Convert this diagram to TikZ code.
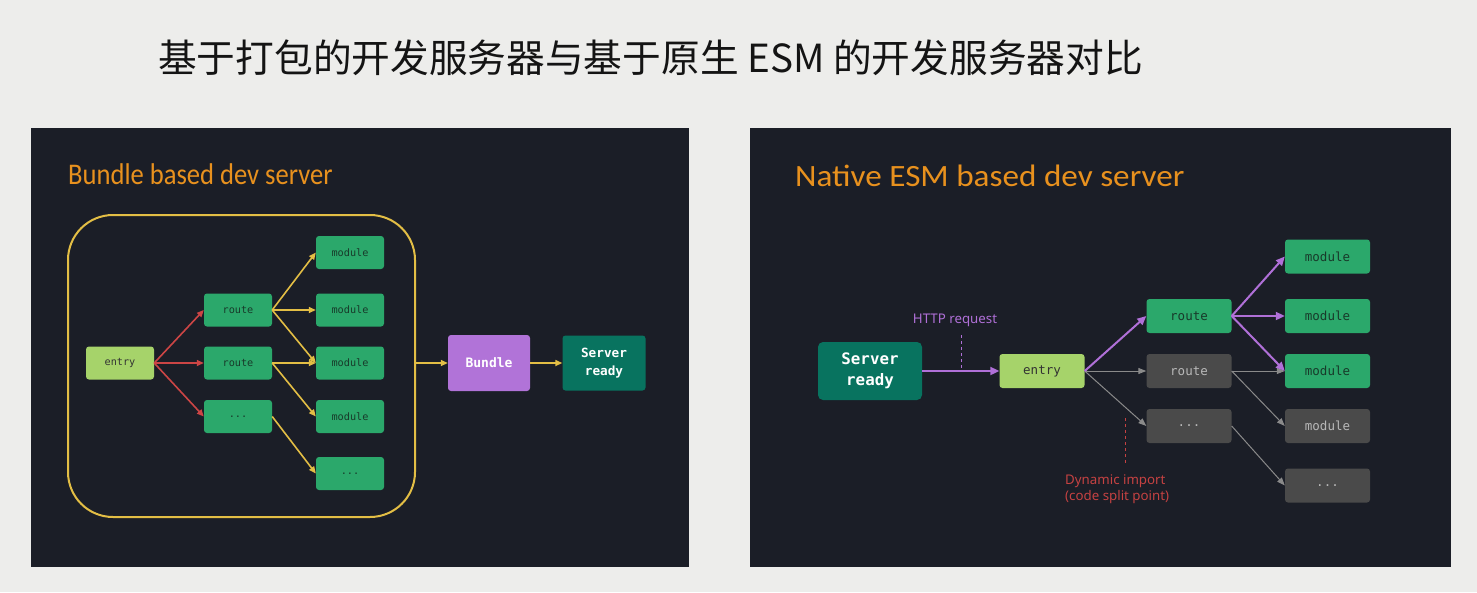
\documentclass[tikz,border=0pt]{standalone}
\usepackage{fontspec}
\setmainfont{Noto Sans}
\setmonofont{DejaVu Sans Mono}
\newfontfamily\cjkfont{Noto Sans CJK SC}
\newfontfamily\headfont{Carlito}
\usetikzlibrary{positioning,arrows.meta}

\definecolor{pagebg}{HTML}{EDEDEB}
\definecolor{panelbg}{HTML}{1B1E27}
\definecolor{headorange}{HTML}{E8911E}
\definecolor{bundleyellow}{HTML}{E3BE45}
\definecolor{edgered}{HTML}{CC4545}
\definecolor{modgreen}{HTML}{2BA86B}
\definecolor{modtext}{HTML}{183A2A}
\definecolor{entrygreen}{HTML}{A6D36A}
\definecolor{bundlepurple}{HTML}{B173D8}
\definecolor{serverteal}{HTML}{08735F}
\definecolor{lazygray}{HTML}{4A4A4A}
\definecolor{lazytext}{HTML}{B8B8B8}
\definecolor{lazyedge}{HTML}{8A8A8A}
\definecolor{reqpurple}{HTML}{B070D8}
\definecolor{splitred}{HTML}{C64242}

\begin{document}
\begin{tikzpicture}[x=1pt,y=-1pt,on grid,
   box/.style={rectangle,rounded corners=3pt,inner sep=0pt,
     minimum width=68pt,minimum height=33pt,fill=modgreen,text=modtext,
     font=\ttfamily\fontsize{10.2}{12}\selectfont},
   bigbox/.style={box,minimum width=85pt,minimum height=34pt,
     font=\ttfamily\fontsize{12.5}{15}\selectfont},
   lazy/.style={fill=lazygray,text=lazytext},
   entrybox/.style={fill=entrygreen,text=black!80},
   heading/.style={anchor=west,inner sep=0pt,text=headorange,
     font=\headfont\fontsize{30}{36}\selectfont},
   yarrow/.style={-{Triangle[length=7pt,width=6pt]},bundleyellow,line width=1.6pt},
   rarrow/.style={-{Triangle[length=7pt,width=6pt]},edgered,line width=1.6pt},
   parrow/.style={-{Triangle[length=9pt,width=8pt]},reqpurple,line width=2pt},
   garrow/.style={-{Triangle[length=8pt,width=6pt]},lazyedge,line width=1pt}]

   % page and panels
   \fill[pagebg] (0,0) rectangle (1477,592);
   \fill[panelbg] (31,128) rectangle (689,567);
   \fill[panelbg] (750,128) rectangle (1451,567);

   \node[anchor=west,inner sep=0pt,text=black!92,
     font=\cjkfont\fontsize{38.7}{44}\selectfont] (title) at (158,58)
     {基于打包的开发服务器与基于原生 ESM 的开发服务器对比};

   % bundle based dev server
   \node[heading] (lhead) at (68,174) {\scalebox{0.886}[1]{Bundle based dev server}};
   \node[draw=bundleyellow,line width=2pt,rounded corners=45pt,
     minimum width=347pt,minimum height=302pt] (bbox) at (241.5,366) {};

   \node[box,entrybox] (lentry) at (120,363) {entry};
   \node[box] (lroute2) [right=118pt of lentry] {route};
   \node[box] (lroute1) [above=53pt of lroute2] {route};
   \node[box] (ldots) [below=53.5pt of lroute2] {...};
   \node[box] (lmod3) [right=112pt of lroute2] {module};
   \node[box] (lmod2) [above=53pt of lmod3] {module};
   \node[box] (lmod1) [above=57.5pt of lmod2] {module};
   \node[box] (lmod4) [below=53.5pt of lmod3] {module};
   \node[box] (lmod5) [below=57pt of lmod4] {...};

   \node[box,fill=bundlepurple,text=white!92,minimum width=82pt,minimum height=56pt,
     font=\ttfamily\bfseries\fontsize{13}{16}\selectfont] (bundle) at (489,363) {Bundle};
   \node[box,fill=serverteal,text=white!88,minimum width=83pt,minimum height=55pt,align=center,
     font=\ttfamily\bfseries\fontsize{12.7}{18}\selectfont] (lserver) [right=115pt of bundle] {Server\\ready};

   \path[rarrow]
    (lentry.east) edge (lroute1.west)
                  edge (lroute2.west)
                  edge (ldots.west);
   \path[yarrow]
    (lroute1.east) edge (lmod1.west)
                   edge (lmod2.west)
                   edge (lmod3.west)
    (lroute2.east) edge (lmod3.west)
                   edge (lmod4.west)
    (ldots.east) edge (lmod5.west)
    (bbox.east |- bundle.west) edge (bundle.west)
    (bundle.east) edge (lserver.west);

   % native esm based dev server
   \node[heading,font=\headfont\fontsize{31}{36}\selectfont] (rhead) at (795,176)
     {\scalebox{1.07}[1]{Native ESM based dev server}};

   \node[box,fill=serverteal,text=white!88,minimum width=104pt,minimum height=58pt,
     rounded corners=5pt,align=center,
     font=\ttfamily\bfseries\fontsize{15.8}{21}\selectfont] (rserver) at (870,371) {Server\\ready};
   \node[bigbox,entrybox] (rentry) [right=172pt of rserver] {entry};
   \node[bigbox,lazy] (rroute2) [right=147pt of rentry] {route};
   \node[bigbox] (rroute1) [above=55pt of rroute2] {route};
   \node[bigbox,lazy] (rdots) [below=55pt of rroute2] {...};
   \node[bigbox] (rmod3) [right=138.5pt of rroute2] {module};
   \node[bigbox] (rmod2) [above=55pt of rmod3] {module};
   \node[bigbox] (rmod1) [above=59.5pt of rmod2] {module};
   \node[bigbox,lazy] (rmod4) [below=55pt of rmod3] {module};
   \node[bigbox,lazy] (rmod5) [below=59.5pt of rmod4] {...};

   \node[text=reqpurple,font=\fontsize{13.3}{16}\selectfont] (http) at (955,320) {HTTP request};
   \node[text=splitred,align=left,anchor=north west,inner sep=0pt,
     font=\fontsize{13.3}{16}\selectfont] (split) at (1065,474) {Dynamic import\\(code split point)};
   \coordinate (httpmark) at (961,369);
   \coordinate (splittop) at (1125,418);
   \coordinate (splitend) at (1125,463);

   \draw[reqpurple,dashed,line width=1pt] (httpmark |- 0,335) -- (httpmark);
   \draw[splitred,dashed,line width=1pt] (splittop) -- (splitend);

   \path[garrow]
    (rentry.east) edge (rroute2.west)
                  edge (rdots.west)
    (rroute2.east) edge (rmod3.west)
                   edge (rmod4.west)
    (rdots.east) edge (rmod5.west);
   \path[parrow]
    (rserver.east) edge (rentry.west)
    (rentry.east) edge (rroute1.west)
    (rroute1.east) edge (rmod1.west)
                   edge (rmod2.west)
                   edge (rmod3.west);
\end{tikzpicture}
\end{document}
